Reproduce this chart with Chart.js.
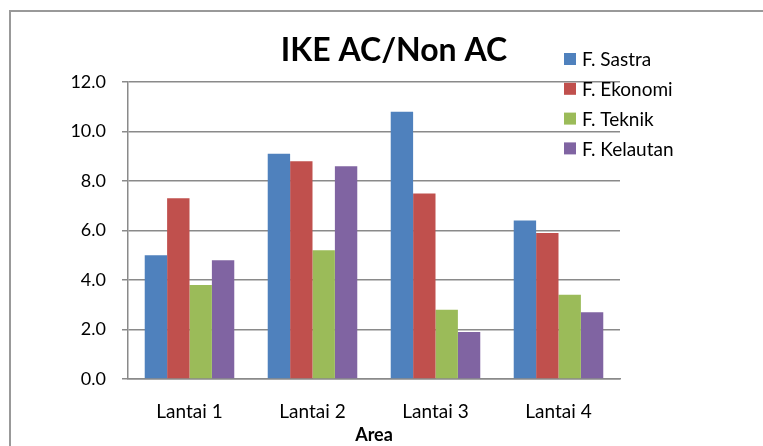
<!DOCTYPE html>
<html>
<head>
<meta charset="utf-8">
<script src="https://cdn.jsdelivr.net/npm/chart.js@4.4.1/dist/chart.umd.min.js"></script>
<style>
html, body { margin: 0; padding: 0; background: #fff; }
#holder { width: 763px; height: 446px; position: relative; }
</style>
</head>
<body>
<div id="holder"><canvas id="ike-chart"></canvas></div>
<script>
const areas = ['Lantai 1', 'Lantai 2', 'Lantai 3', 'Lantai 4'];
const sastra = [5.0, 9.1, 10.8, 6.4];
const ekonomi = [7.3, 8.8, 7.5, 5.9];
const teknik = [3.8, 5.2, 2.8, 3.4];
const kelautan = [4.8, 8.6, 1.9, 2.7];
const seriesNames = ['F. Sastra', 'F. Ekonomi', 'F. Teknik', 'F. Kelautan'];
const chartTitle = 'IKE AC/Non AC';
const xTitle = 'Area';

const fontFam = 'Lato, "Open Sans", sans-serif';
const gridGrey = '#8a8a8a';
const colors = ['#4f81bd', '#c0504d', '#9bbb59', '#8064a2'];

// frame, title and legend drawn by hand so they sit where the original has them
const frameTitleLegend = {
    id: 'frameTitleLegend',
    beforeDraw(chart) {
        const ctx = chart.ctx;
        ctx.save();
        ctx.strokeStyle = '#999';
        ctx.lineWidth = 2;
        ctx.strokeRect(10, 11, 800, 500);
        ctx.restore();
    },
    afterDraw(chart) {
        const ctx = chart.ctx;
        ctx.save();
        ctx.fillStyle = '#000';
        ctx.font = 'bold 32px ' + fontFam;
        ctx.textAlign = 'center';
        ctx.textBaseline = 'middle';
        ctx.fillText(chartTitle, 394, 51);

        ctx.font = '19px ' + fontFam;
        ctx.textAlign = 'left';
        chart.data.datasets.forEach(function(ds, i) {
            const cy = 59 + i * 29.8;
            ctx.fillStyle = ds.backgroundColor;
            ctx.fillRect(564, cy - 6, 12, 12);
            ctx.fillStyle = '#000';
            ctx.fillText(ds.label, 582, cy + 1);
        });
        ctx.restore();
    }
};

const series = [sastra, ekonomi, teknik, kelautan];

new Chart('ike-chart', {
    type: 'bar',
    data: {
        labels: areas,
        datasets: series.map(function(vals, i) {
            return {
                label: seriesNames[i],
                data: vals,
                backgroundColor: colors[i],
                borderWidth: 0,
                categoryPercentage: 0.728,
                barPercentage: 1.0
            };
        })
    },
    options: {
        responsive: true,
        maintainAspectRatio: false,
        animation: false,
        layout: { padding: { top: 82, left: 0, right: 143, bottom: 0 } },
        plugins: {
            legend: { display: false },
            title: { display: false },
            tooltip: { enabled: false }
        },
        scales: {
            x: {
                grid: { display: false },
                border: { display: true, color: gridGrey, width: 1.5 },
                ticks: { color: '#000', padding: 13, font: { family: fontFam, size: 19 } },
                title: {
                    display: true,
                    text: xTitle,
                    color: '#000',
                    padding: { top: 4, bottom: 0 },
                    font: { family: fontFam, size: 18, weight: 'bold' }
                },
                afterFit(scale) { scale.height = 67; }
            },
            y: {
                min: 0,
                max: 12,
                grid: { color: gridGrey, lineWidth: 1.5, tickLength: 6, drawTicks: true },
                border: { display: true, color: gridGrey, width: 1.5 },
                ticks: {
                    stepSize: 2,
                    color: '#000',
                    padding: 16,
                    font: { family: fontFam, size: 18 },
                    callback: function(v) { return v.toFixed(1); }
                },
                afterFit(scale) { scale.width = 128; }
            }
        }
    },
    plugins: [frameTitleLegend]
});
</script>
</body>
</html>
